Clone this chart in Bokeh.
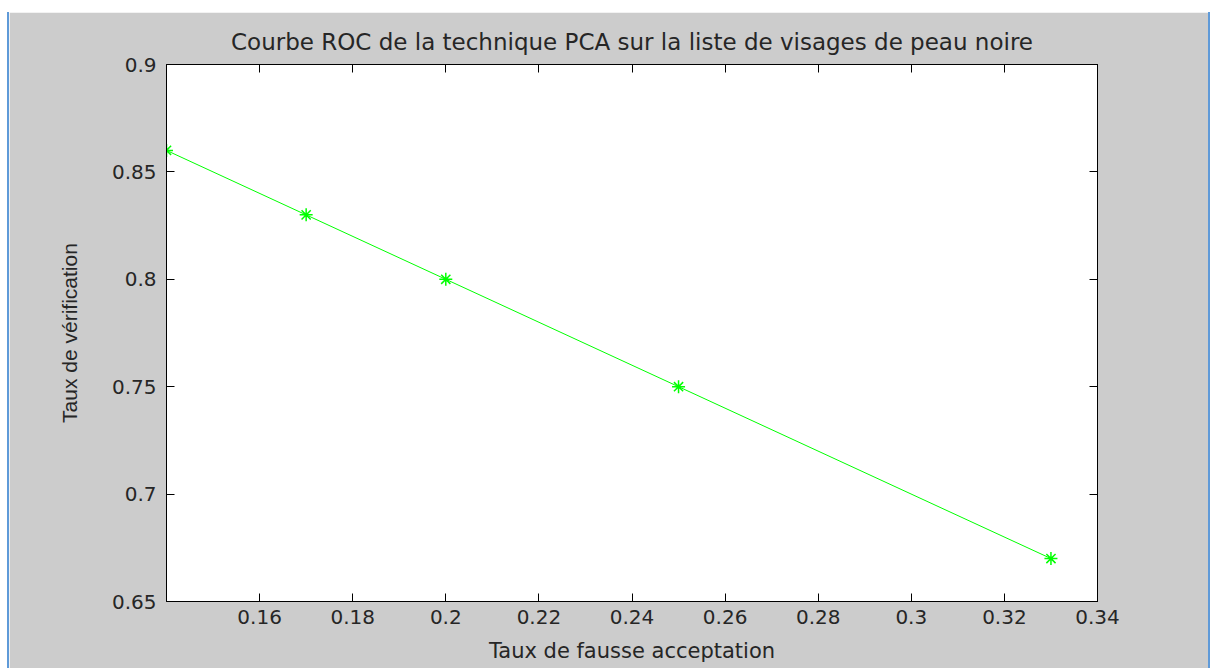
from bokeh.plotting import figure
from bokeh.models import LinearAxis, Range1d, FixedTicker, CustomJSTickFormatter, Spacer
from bokeh.layouts import row, column
from bokeh.embed import file_html
from bokeh.resources import INLINE

fausse_acceptation = [0.14, 0.17, 0.20, 0.25, 0.33]
taux_verification = [0.86, 0.83, 0.80, 0.75, 0.67]
x_ticks = [0.16, 0.18, 0.2, 0.22, 0.24, 0.26, 0.28, 0.3, 0.32, 0.34]
y_ticks = [0.65, 0.7, 0.75, 0.8, 0.85, 0.9]
x_tick_labels = {0.16: "0.16", 0.18: "0.18", 0.2: "0.2", 0.22: "0.22", 0.24: "0.24",
                 0.26: "0.26", 0.28: "0.28", 0.3: "0.3", 0.32: "0.32", 0.34: "0.34"}
y_tick_labels = {0.65: "0.65", 0.7: "0.7", 0.75: "0.75", 0.8: "0.8", 0.85: "0.85", 0.9: "0.9"}

FONT = "DejaVu Sans"
GRAY = "#cccccc"
TXT = "#262626"
BLUE = "#5f9ad8"

p = figure(width=1199, height=656, output_backend="svg", toolbar_location=None,
           x_range=Range1d(0.14, 0.34), y_range=Range1d(0.65, 0.9),
           x_axis_location=None, y_axis_location=None,
           min_border_left=157, min_border_right=111, min_border_top=52, min_border_bottom=67,
           title="Courbe ROC de la technique PCA sur la liste de visages de peau noire")
p.border_fill_color = GRAY
p.background_fill_color = "white"
p.outline_line_color = "black"
p.outline_line_width = 1
p.grid.visible = False

p.title.align = "center"
p.title.text_font = FONT
p.title.text_font_size = "23px"
p.title.text_font_style = "normal"
p.title.text_color = TXT
p.title.standoff = 19

def style_axis(ax, ticks, labels, show_labels):
    ax.ticker = FixedTicker(ticks=ticks)
    ax.major_tick_in = 8
    ax.major_tick_out = 0
    ax.minor_tick_in = 0
    ax.minor_tick_out = 0
    ax.axis_line_color = "black"
    ax.major_tick_line_color = "black"
    ax.major_label_text_font = FONT
    ax.major_label_text_color = TXT
    ax.major_label_text_font_size = "20px"
    if show_labels:
        ax.major_label_overrides = labels
    else:
        ax.formatter = CustomJSTickFormatter(code="return ''")
        ax.major_label_standoff = 0

xb = LinearAxis(axis_label="Taux de fausse acceptation")
style_axis(xb, x_ticks, x_tick_labels, True)
xb.major_label_standoff = 8
xb.axis_label_text_font = FONT
xb.axis_label_text_font_size = "21px"
xb.axis_label_text_font_style = "normal"
xb.axis_label_text_color = TXT
xb.axis_label_standoff = 12
p.add_layout(xb, "below")

yl = LinearAxis(axis_label="Taux de vérification")
style_axis(yl, y_ticks, y_tick_labels, True)
yl.major_label_standoff = 10
yl.axis_label_text_font = "Liberation Sans"
yl.axis_label_text_font_size = "21px"
yl.axis_label_text_font_style = "normal"
yl.axis_label_text_color = TXT
yl.axis_label_standoff = 28
p.add_layout(yl, "left")

xt = LinearAxis()
style_axis(xt, x_ticks, x_tick_labels, False)
p.add_layout(xt, "above")

yr = LinearAxis()
style_axis(yr, y_ticks, y_tick_labels, False)
p.add_layout(yr, "right")

p.line(fausse_acceptation, taux_verification, line_color="#00ff00", line_width=1)
p.scatter(fausse_acceptation, taux_verification, marker="asterisk", size=13,
          line_color="#00ff00", line_width=1.5)

left_pad = Spacer(width=7, height=656)
blue_l = Spacer(width=2, height=656, styles={"background-color": BLUE})
blue_r = Spacer(width=2, height=656, styles={"background-color": BLUE})
layout = column(Spacer(width=1210, height=12), row(left_pad, blue_l, p, blue_r, spacing=0), spacing=0)

open("out.html", "w").write(file_html(layout, INLINE))
